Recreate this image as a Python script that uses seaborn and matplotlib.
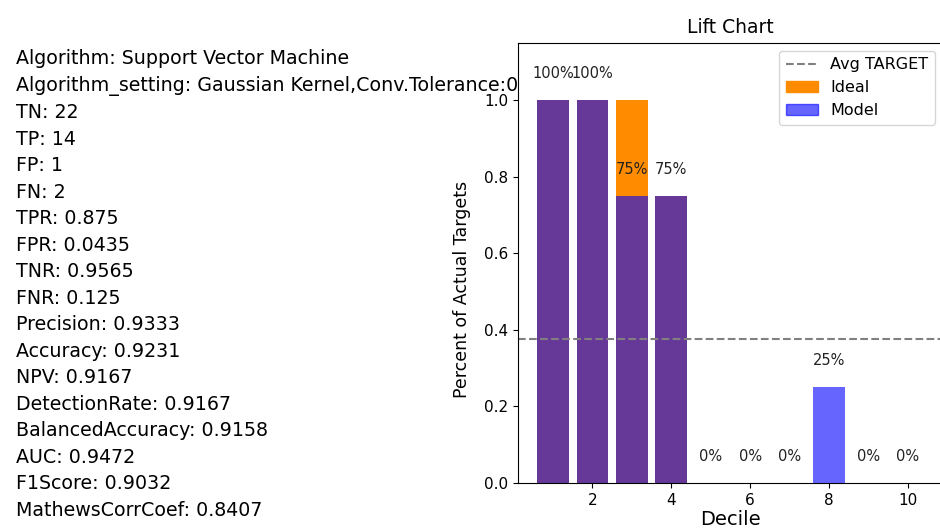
import numpy as np
import pandas as pd
import matplotlib
matplotlib.use('Agg')
import matplotlib.pyplot as plt
import seaborn as sns
from matplotlib.lines import Line2D
from matplotlib.patches import Patch

# values
deciles = [1, 2, 3, 4, 5, 6, 7, 8, 9, 10]
ideal = [1.0, 1.0, 1.0, 0.75, 0.0, 0.0, 0.0, 0.0, 0.0, 0.0]
model = [1.0, 1.0, 0.75, 0.75, 0.0, 0.0, 0.0, 0.25, 0.0, 0.0]
avg_target = 0.375

metric_names = ['Algorithm', 'Algorithm_setting', 'TN', 'TP', 'FP', 'FN', 'TPR', 'FPR',
                'TNR', 'FNR', 'Precision', 'Accuracy', 'NPV', 'DetectionRate',
                'BalancedAccuracy', 'AUC', 'F1Score', 'MathewsCorrCoef']
metric_values = ['Support Vector Machine', 'Gaussian Kernel,Conv.Tolerance:0.001',
                 '22', '14', '1', '2', '0.875', '0.0435', '0.9565', '0.125', '0.9333',
                 '0.9231', '0.9167', '0.9167', '0.9158', '0.9472', '0.9032', '0.8407']

df = pd.DataFrame({'Decile': deciles, 'Ideal': ideal, 'Model': model})

fig = plt.figure(figsize=(9.4, 5.31), dpi=100)
ax = fig.add_axes([0.551, 0.0904, 0.452, 0.829])

sns.barplot(data=df, x='Decile', y='Ideal', native_scale=True, color='darkorange',
            saturation=1, width=0.8, ax=ax)
sns.barplot(data=df, x='Decile', y='Model', native_scale=True, color='blue',
            saturation=1, alpha=0.6, width=0.8, ax=ax)
ax.axhline(avg_target, color='gray', linestyle='--', linewidth=1.5)

for d, m in zip(deciles, model):
    ax.text(d, m + 0.07, f'{m:.0%}', ha='center', va='center', fontsize=10.5, color='#222222')

ax.set_xlim(0.11, 10.89)
ax.set_ylim(0, 1.15)
ax.set_xticks([2, 4, 6, 8, 10])
ax.set_yticks([0.0, 0.2, 0.4, 0.6, 0.8, 1.0])
ax.tick_params(labelsize=11)
ax.set_title('Lift Chart', fontsize=13.5, pad=7)
ax.set_xlabel('Decile', fontsize=14, labelpad=2)
ax.set_ylabel('Percent of Actual Targets', fontsize=12.5)
ax.yaxis.set_label_coords(-0.11, 0.44)

handles = [Line2D([0], [0], color='gray', linestyle='--'),
           Patch(color='darkorange'),
           Patch(color='blue', alpha=0.6)]
ax.legend(handles, ['Avg TARGET', 'Ideal', 'Model'], loc='upper right', fontsize=11.5)

lines = [f'{n}: {v}' for n, v in zip(metric_names, metric_values)]
fig.text(0.017, 0.907, '\n'.join(lines), ha='left', va='top', fontsize=13.7,
         linespacing=1.5, zorder=-1)

fig.savefig('out.png', dpi=100)
